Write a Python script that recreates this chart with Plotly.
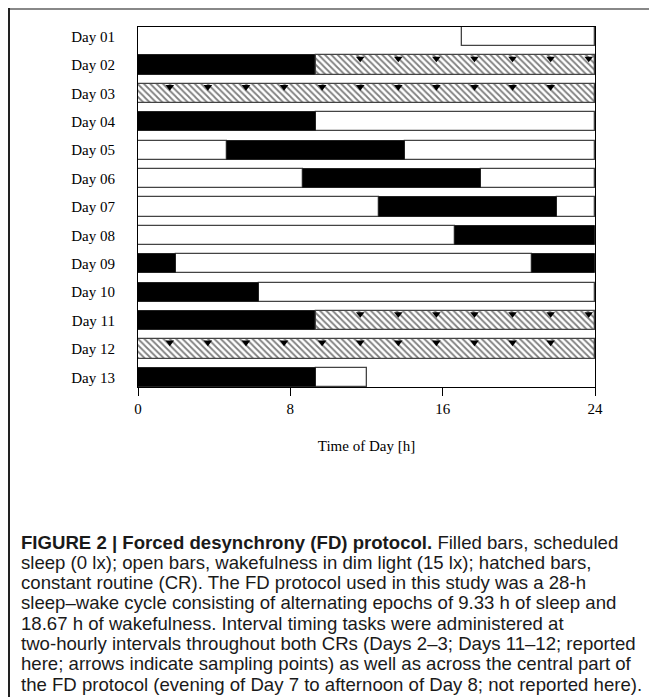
import plotly.graph_objects as go

# ---------------- data ----------------
days = ["Day 01", "Day 02", "Day 03", "Day 04", "Day 05", "Day 06", "Day 07",
        "Day 08", "Day 09", "Day 10", "Day 11", "Day 12", "Day 13"]

# scheduled sleep (filled bars): day label, start [h], end [h]
sleep_day = ["Day 02", "Day 04", "Day 05", "Day 06", "Day 07", "Day 08",
             "Day 09", "Day 09", "Day 10", "Day 11", "Day 13"]
sleep_start = [0, 0, 4.67, 8.67, 12.67, 16.67, 0, 20.67, 0, 0, 0]
sleep_end = [9.33, 9.33, 14.0, 18.0, 22.0, 24.0, 2.0, 24.0, 6.33, 9.33, 9.33]

# wakefulness in dim light (open bars)
wake_day = ["Day 01", "Day 04", "Day 05", "Day 05", "Day 06", "Day 06",
            "Day 07", "Day 07", "Day 08", "Day 09", "Day 10", "Day 13"]
wake_start = [17.0, 9.33, 0, 14.0, 0, 18.0, 0, 22.0, 0, 2.0, 6.33, 9.33]
wake_end = [24.0, 24.0, 4.67, 24.0, 8.67, 24.0, 12.67, 24.0, 16.67, 20.67, 24.0, 12.0]

# constant routine (hatched bars)
cr_day = ["Day 02", "Day 03", "Day 11", "Day 12"]
cr_start = [9.33, 0, 9.33, 0]
cr_end = [24.0, 24.0, 24.0, 24.0]

# sampling points (arrows)
arrow_day = (["Day 02"] * 7 + ["Day 03"] * 11 + ["Day 11"] * 7 + ["Day 12"] * 11)
arrow_time = ([11.67, 13.67, 15.67, 17.67, 19.67, 21.67, 23.67] +
              [1.67, 3.67, 5.67, 7.67, 9.67, 11.67, 13.67, 15.67, 17.67, 19.67, 21.67] +
              [11.67, 13.67, 15.67, 17.67, 19.67, 21.67, 23.67] +
              [1.67, 3.67, 5.67, 7.67, 9.67, 11.67, 13.67, 15.67, 17.67, 19.67, 21.67])

x_ticks = [0, 8, 16, 24]
x_title = "Time of Day [h]"

caption_lines = [
    "<b>FIGURE 2 | Forced desynchrony (FD) protocol.</b> Filled bars, scheduled",
    "sleep (0 lx); open bars, wakefulness in dim light (15 lx); hatched bars,",
    "constant routine (CR). The FD protocol used in this study was a 28-h",
    "sleep–wake cycle consisting of alternating epochs of 9.33 h of sleep and",
    "18.67 h of wakefulness. Interval timing tasks were administered at",
    "two-hourly intervals throughout both CRs (Days 2–3; Days 11–12; reported",
    "here; arrows indicate sampling points) as well as across the central part of",
    "the FD protocol (evening of Day 7 to afternoon of Day 8; not reported here).",
]

# ---------------- figure ----------------
# page body has an 8 px default margin, so figure coords = screen coords - 8
OFF = 8
W, H = 649, 689
L, R, T, B = 130, 62, 19, 310
BAR_W = 0.68
pos = {d: i for i, d in enumerate(days)}

fig = go.Figure()

fig.add_trace(go.Bar(
    orientation="h",
    y=[pos[d] for d in wake_day],
    base=wake_start,
    x=[e - s for s, e in zip(wake_start, wake_end)],
    width=BAR_W,
    marker=dict(color="white", line=dict(color="#444444", width=1.3)),
    hoverinfo="skip", showlegend=False,
))
fig.add_trace(go.Bar(
    orientation="h",
    y=[pos[d] for d in sleep_day],
    base=sleep_start,
    x=[e - s for s, e in zip(sleep_start, sleep_end)],
    width=BAR_W,
    marker=dict(color="black", line=dict(color="#222222", width=1)),
    hoverinfo="skip", showlegend=False,
))
fig.add_trace(go.Bar(
    orientation="h",
    y=[pos[d] for d in cr_day],
    base=cr_start,
    x=[e - s for s, e in zip(cr_start, cr_end)],
    width=BAR_W,
    marker=dict(color="white",
                pattern=dict(shape="\\", fgcolor="black", bgcolor="white",
                             size=4.5, solidity=0.4),
                line=dict(color="#444444", width=1.3)),
    hoverinfo="skip", showlegend=False,
))
fig.add_trace(go.Scatter(
    x=arrow_time,
    y=[pos[d] - BAR_W / 2 + 0.11 for d in arrow_day],
    mode="markers",
    marker=dict(symbol="triangle-down", size=7.5, color="black",
                line=dict(width=0)),
    hoverinfo="skip", showlegend=False, cliponaxis=False,
))

serif = "Liberation Serif"
fig.update_layout(
    width=W, height=H,
    margin=dict(l=L, r=R, t=T, b=B, pad=0),
    paper_bgcolor="white", plot_bgcolor="white",
    barmode="overlay",
    bargap=0,
    font=dict(family=serif, size=15, color="black"),
    showlegend=False,
)
fig.update_xaxes(
    range=[0, 24], tickvals=x_ticks, ticktext=[str(v) for v in x_ticks],
    ticks="outside", ticklen=8, tickwidth=1, tickcolor="black",
    showline=True, linecolor="black", linewidth=1, mirror=True,
    showgrid=False, zeroline=False,
    tickfont=dict(family=serif, size=15),
    title=dict(text=x_title, font=dict(family=serif, size=15), standoff=24),
)
fig.update_yaxes(
    range=[len(days) - 1 + BAR_W / 2, -BAR_W / 2],
    tickvals=list(range(len(days))), ticktext=days,
    ticks="", showline=True, linecolor="black", linewidth=1, mirror=True,
    showgrid=False, zeroline=False, ticklabelstandoff=19,
    tickfont=dict(family=serif, size=15),
)

plot_w = W - L - R
plot_h = H - T - B


def px_to_paper_x(px):
    """screen pixel -> paper x"""
    return (px - OFF - L) / plot_w


def px_to_paper_y(py):
    """screen pixel -> paper y"""
    return (H - B - (py - OFF)) / plot_h


# outer figure frame (top and left edges)
fig.add_shape(type="line", xref="paper", yref="paper",
              x0=px_to_paper_x(8), x1=px_to_paper_x(651),
              y0=px_to_paper_y(9), y1=px_to_paper_y(9),
              line=dict(color="#888888", width=2))
fig.add_shape(type="line", xref="paper", yref="paper",
              x0=px_to_paper_x(9), x1=px_to_paper_x(9),
              y0=px_to_paper_y(8), y1=px_to_paper_y(697),
              line=dict(color="#222222", width=2))

for i, line in enumerate(caption_lines):
    fig.add_annotation(
        xref="paper", yref="paper",
        x=px_to_paper_x(19), y=px_to_paper_y(542 + 20.3 * i),
        xanchor="left", yanchor="middle", showarrow=False,
        text=line, align="left",
        font=dict(family="Liberation Sans", size=18.6, color="#1a1a1a"),
    )

fig.write_html("out.html")
